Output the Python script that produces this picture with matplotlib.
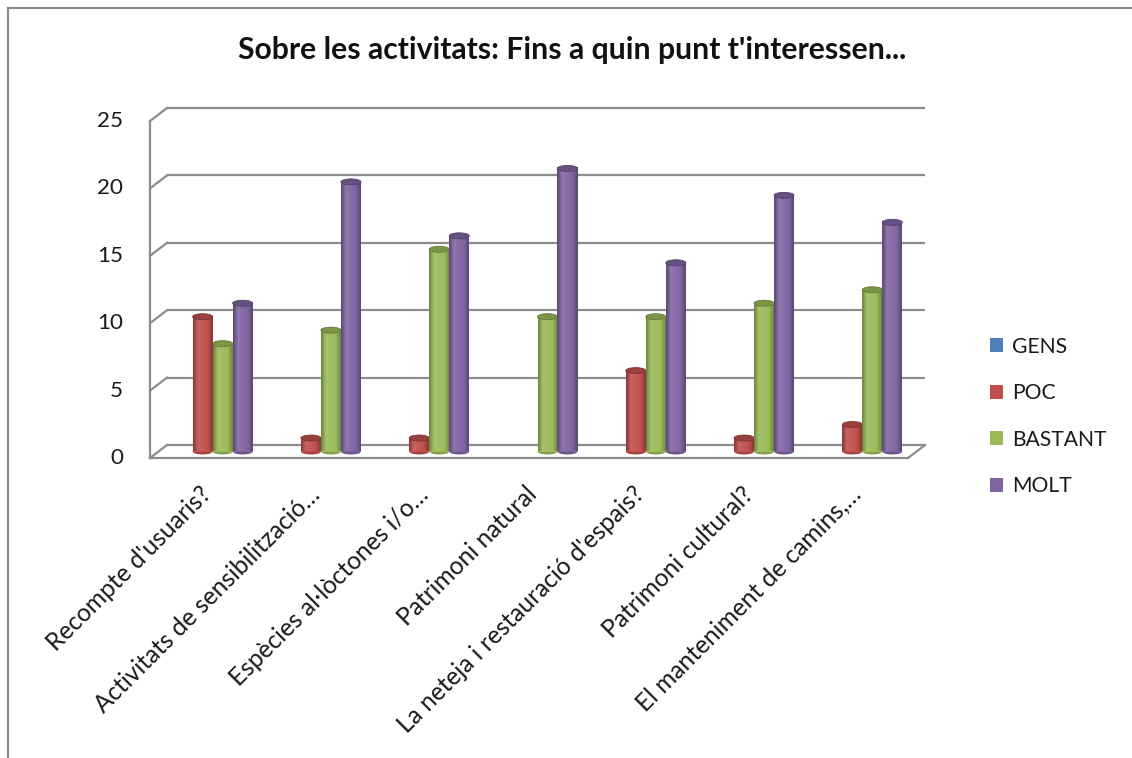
import matplotlib.pyplot as plt
import numpy as np
from matplotlib.patches import Ellipse, Patch
from matplotlib.lines import Line2D
from matplotlib.colors import LinearSegmentedColormap, to_rgb

categories = ["Recompte d'usuaris?", "Activitats de sensibilització…", "Espècies al·lòctones i/o…",
              "Patrimoni natural", "La neteja i restauració d'espais?", "Patrimoni cultural?",
              "El manteniment de camins,…"]
series = ["GENS", "POC", "BASTANT", "MOLT"]
gens = [0, 0, 0, 0, 0, 0, 0]
poc = [10, 1, 1, 0, 6, 1, 2]
bastant = [8, 9, 15, 10, 10, 11, 12]
molt = [11, 20, 16, 21, 14, 19, 17]
yticks = [0, 5, 10, 15, 20, 25]
title = "Sobre les activitats: Fins a quin punt t'interessen..."

colors = ['#4F81BD', '#C0504D', '#9BBB59', '#8064A2']
grid_color = '#8c8c8c'
text_color = '#1a1a1a'

plt.rcParams['font.family'] = ['Lato', 'DejaVu Sans']

W, H = 1132, 758
fig = plt.figure(figsize=(W / 100, H / 100), dpi=100)
renderer = fig.canvas.get_renderer()


def size_for(txt, target_px, probe=15, **kw):
    """font size at which txt is target_px wide (unrotated)"""
    t = fig.text(0, 0, txt, fontsize=probe, **kw)
    w = t.get_window_extent(renderer).width
    t.remove()
    return probe * target_px / w


fs_tick = size_for("25", 26)
fs_cat = size_for(categories[0], 222)
fs_leg = size_for("BASTANT", 95)
fs_title = size_for(title, 667, fontweight='bold')

# middle plane of the 3D box (pixel coords)
left, right = 158.5, 916.5
y0, y25 = 451.5, 114.5
ax = fig.add_axes([left / W, (H - y0) / H, (right - left) / W, (y0 - y25) / H])
ax.axis('off')

px_x = (right - left) / 7
px_y = (y0 - y25) / 25
ddx = 8.5 / px_x   # depth offset in data units
ddy = 6.5 / px_y

xmin, xmax = -0.5, 6.5

# back wall gridlines + diagonals to the front axis
for v in yticks:
    ax.plot([xmin + ddx, xmax + ddx], [v + ddy, v + ddy], color=grid_color, lw=1.6,
            clip_on=False, zorder=1, solid_capstyle='butt')
    ax.plot([xmin - ddx, xmin + ddx], [v - ddy, v + ddy], color=grid_color, lw=1.6,
            clip_on=False, zorder=1)
    ax.text(xmin - ddx - 27 / px_x, v - ddy, str(v), ha='right', va='center',
            fontsize=fs_tick, color=text_color)
# front vertical axis
ax.plot([xmin - ddx, xmin - ddx], [0 - ddy, 25 - ddy], color=grid_color, lw=1.6, clip_on=False, zorder=1)
# floor
ax.plot([xmin - ddx, xmax - ddx], [-ddy, -ddy], color=grid_color, lw=1.6, clip_on=False, zorder=1)
ax.plot([xmax - ddx, xmax + ddx], [-ddy, ddy], color=grid_color, lw=1.6, clip_on=False, zorder=1)


def shade(c, f):
    r = np.array(to_rgb(c))
    if f < 0:
        return tuple(r * (1 + f))
    return tuple(r + (1 - r) * f)


bw = 20 / px_x
eh = 6 / px_y
data = [gens, poc, bastant, molt]
x = np.arange(len(categories))
for k, (vals, col) in enumerate(zip(data, colors)):
    cmap = LinearSegmentedColormap.from_list(
        'cyl%d' % k,
        [shade(col, -0.3), shade(col, 0.12), shade(col, 0.05), col, shade(col, -0.3)])
    grad = np.linspace(0, 1, 64).reshape(1, -1)
    for i, v in enumerate(vals):
        if v <= 0:
            continue
        xc = x[i] + (k - 1.5) * bw
        z = 3 + k * 0.1 + i
        ax.bar(xc, v, bw, color=col, zorder=z, clip_on=False)
        ax.imshow(grad, cmap=cmap, extent=(xc - bw / 2, xc + bw / 2, 0, v), aspect='auto',
                  zorder=z + 0.01, clip_on=False)
        ax.add_patch(Ellipse((xc, 0), bw, eh, facecolor=shade(col, -0.15), edgecolor='none',
                             zorder=z - 0.01, clip_on=False))
        ax.add_patch(Ellipse((xc, v), bw, eh, facecolor=shade(col, -0.2),
                             edgecolor=shade(col, -0.35), lw=0.6, zorder=z + 0.02, clip_on=False))

ax.set_xlim(xmin, xmax)
ax.set_ylim(0, 25)

for i, lab in enumerate(categories):
    ax.text(x[i] - 0.12, -2.3, lab, rotation=45, ha='right', va='top', rotation_mode='anchor',
            fontsize=fs_cat, color=text_color)

fig.text(238 / W, 1 - 50 / H, title, ha='left', va='center', fontsize=fs_title,
         fontweight='bold', color='#111111')

fs_px = fs_leg * 100 / 72
handles = [Patch(facecolor=c, edgecolor='none') for c in colors]
fig.legend(handles, series, loc='center left', bbox_to_anchor=(990 / W, 1 - 416.5 / H),
           frameon=False, fontsize=fs_leg, borderpad=0, borderaxespad=0,
           handlelength=13 / fs_px, handleheight=13 / fs_px,
           handletextpad=9 / fs_px, labelspacing=(47.7 - fs_px) / fs_px,
           labelcolor=text_color)

# outer chart border
fig.add_artist(Line2D([8 / W, 8 / W], [0, 1 - 8 / H], color='#8a8a8a', lw=1.6))
fig.add_artist(Line2D([8 / W, 1], [1 - 8 / H, 1 - 8 / H], color='#8a8a8a', lw=1.6))

fig.savefig('out.png', dpi=100)
